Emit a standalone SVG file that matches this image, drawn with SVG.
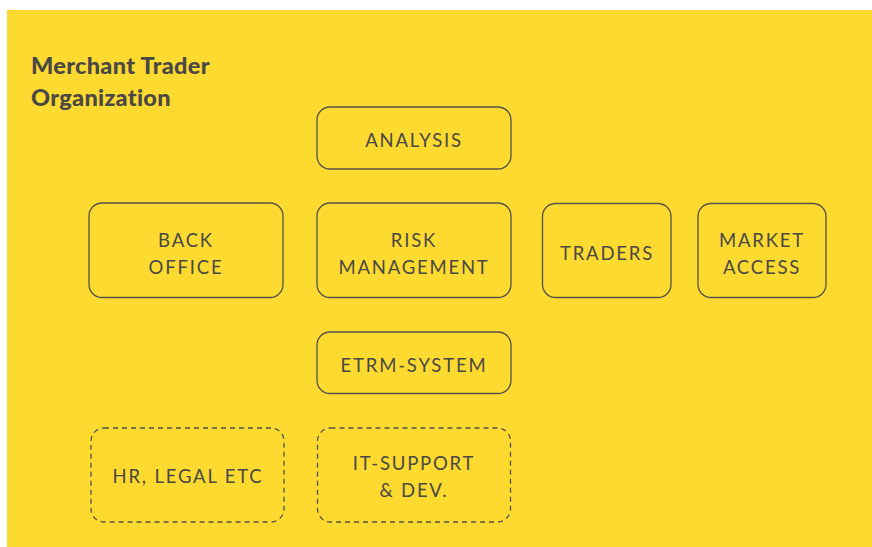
<svg xmlns="http://www.w3.org/2000/svg" width="872" height="547" viewBox="0 0 872 547">
  <style>
    .box { fill: none; stroke: #55524a; stroke-width: 1.3; }
    .dashed { stroke-dasharray: 5 4; }
    .lbl { font-family: Lato, "Liberation Sans", sans-serif; font-size: 18.5px; letter-spacing: 1.8px; fill: #4a4845; text-anchor: middle; }
    .title { font-family: Lato, "Liberation Sans", sans-serif; font-size: 23.5px; font-weight: 900; letter-spacing: 0.3px; fill: #4a4845; }
  </style>
  <rect x="0" y="0" width="872" height="547" fill="#ffffff"/>
  <rect x="7" y="10" width="865" height="537" fill="#fdda30"/>

  <g id="title">
    <text class="title" x="31" y="74">Merchant Trader</text>
    <text class="title" x="31" y="106">Organization</text>
  </g>

  <g id="analysis">
    <rect class="box" x="317" y="107" width="194" height="62" rx="13"/>
    <text class="lbl" x="414" y="147">ANALYSIS</text>
  </g>

  <g id="back-office">
    <rect class="box" x="89" y="203" width="194" height="94.5" rx="13"/>
    <text class="lbl" x="186" y="246.5">BACK</text>
    <text class="lbl" x="186" y="273.5">OFFICE</text>
  </g>

  <g id="risk-management">
    <rect class="box" x="317" y="203" width="194" height="94.5" rx="13"/>
    <text class="lbl" x="414" y="246.5">RISK</text>
    <text class="lbl" x="414" y="273.5">MANAGEMENT</text>
  </g>

  <g id="traders">
    <rect class="box" x="542.5" y="203.5" width="128.5" height="94" rx="13"/>
    <text class="lbl" x="607" y="260">TRADERS</text>
  </g>

  <g id="market-access">
    <rect class="box" x="698" y="203.5" width="128" height="94" rx="13"/>
    <text class="lbl" x="762" y="246.5">MARKET</text>
    <text class="lbl" x="762" y="273.5">ACCESS</text>
  </g>

  <g id="etrm-system">
    <rect class="box" x="317" y="332" width="194" height="61.5" rx="13"/>
    <text class="lbl" x="414" y="372">ETRM-SYSTEM</text>
  </g>

  <g id="hr-legal">
    <rect class="box dashed" x="91" y="428" width="193" height="94" rx="13"/>
    <text class="lbl" x="188" y="483">HR, LEGAL ETC</text>
  </g>

  <g id="it-support">
    <rect class="box dashed" x="317.5" y="428" width="193" height="94" rx="13"/>
    <text class="lbl" x="414" y="470">IT-SUPPORT</text>
    <text class="lbl" x="414" y="497">&amp; DEV.</text>
  </g>

  <g id="connectors"/>
</svg>
